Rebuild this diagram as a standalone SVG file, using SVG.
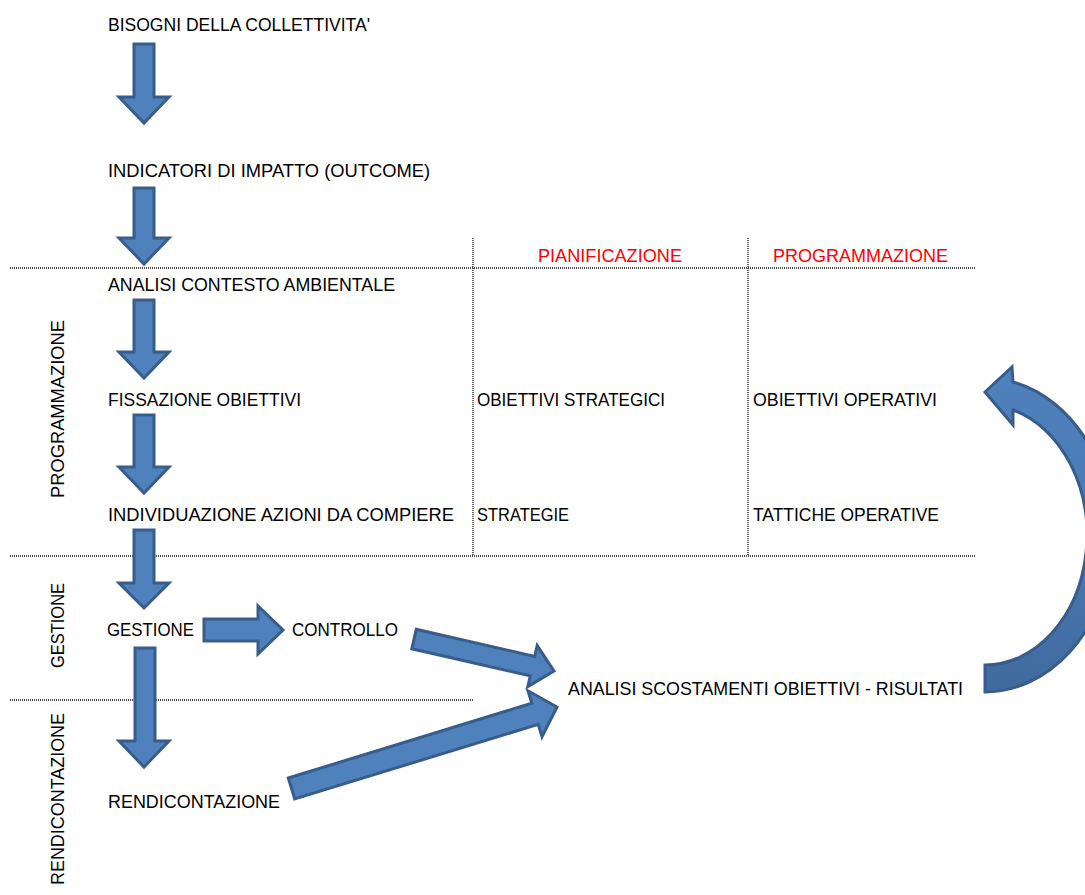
<svg xmlns="http://www.w3.org/2000/svg" width="1085" height="895" viewBox="0 0 1085 895">
<style>
.t{font-family:"Liberation Sans",Arial,sans-serif;font-size:18.5px;fill:#000}
.r{fill:#FF0000}
.ar{fill:#4F81BD;stroke:#385D8A;stroke-width:3;stroke-linejoin:miter}
.dot{stroke:#111;stroke-width:1.3;stroke-dasharray:1 1;fill:none}
</style>
<defs>
<linearGradient id="cg" x1="0" y1="0" x2="0" y2="1">
<stop offset="0" stop-color="#4F81BD"/>
<stop offset="0.55" stop-color="#4A79B2"/>
<stop offset="1" stop-color="#3F6A9E"/>
</linearGradient>
</defs>
<rect width="1085" height="895" fill="#fff"/>
<g id="grid">
<line class="dot" x1="10" y1="268" x2="975" y2="268"/>
<line class="dot" x1="10" y1="556" x2="975" y2="556"/>
<line class="dot" x1="10" y1="700" x2="473" y2="700"/>
<line class="dot" x1="473" y1="238" x2="473" y2="556"/>
<line class="dot" x1="748" y1="238" x2="748" y2="556"/>
</g>
<g id="labels">
<text class="t" transform="translate(64,498) rotate(-90)" textLength="178" lengthAdjust="spacingAndGlyphs">PROGRAMMAZIONE</text>
<text class="t" transform="translate(64,668) rotate(-90)" textLength="85" lengthAdjust="spacingAndGlyphs">GESTIONE</text>
<text class="t" transform="translate(64,885) rotate(-90)" textLength="172" lengthAdjust="spacingAndGlyphs">RENDICONTAZIONE</text>
<text class="t r" x="538" y="262" textLength="144" lengthAdjust="spacingAndGlyphs">PIANIFICAZIONE</text>
<text class="t r" x="773" y="262" textLength="175" lengthAdjust="spacingAndGlyphs">PROGRAMMAZIONE</text>
</g>
<g id="n-bisogni"><text class="t" x="108" y="31" textLength="262" lengthAdjust="spacingAndGlyphs">BISOGNI DELLA COLLETTIVITA'</text></g>
<g id="n-indicatori"><text class="t" x="108" y="177" textLength="322" lengthAdjust="spacingAndGlyphs">INDICATORI DI IMPATTO (OUTCOME)</text></g>
<g id="n-analisi-contesto"><text class="t" x="108" y="291" textLength="287" lengthAdjust="spacingAndGlyphs">ANALISI CONTESTO AMBIENTALE</text></g>
<g id="n-fissazione"><text class="t" x="108" y="406" textLength="193" lengthAdjust="spacingAndGlyphs">FISSAZIONE OBIETTIVI</text></g>
<g id="n-individuazione"><text class="t" x="108" y="521" textLength="346" lengthAdjust="spacingAndGlyphs">INDIVIDUAZIONE AZIONI DA COMPIERE</text></g>
<g id="n-gestione"><text class="t" x="107" y="636" textLength="87" lengthAdjust="spacingAndGlyphs">GESTIONE</text></g>
<g id="n-controllo"><text class="t" x="292" y="636" textLength="106" lengthAdjust="spacingAndGlyphs">CONTROLLO</text></g>
<g id="n-rendicontazione"><text class="t" x="108" y="808" textLength="172" lengthAdjust="spacingAndGlyphs">RENDICONTAZIONE</text></g>
<g id="n-obiettivi-strategici"><text class="t" x="477" y="406" textLength="188" lengthAdjust="spacingAndGlyphs">OBIETTIVI STRATEGICI</text></g>
<g id="n-obiettivi-operativi"><text class="t" x="753" y="406" textLength="184" lengthAdjust="spacingAndGlyphs">OBIETTIVI OPERATIVI</text></g>
<g id="n-strategie"><text class="t" x="477" y="521" textLength="92" lengthAdjust="spacingAndGlyphs">STRATEGIE</text></g>
<g id="n-tattiche"><text class="t" x="753" y="521" textLength="186" lengthAdjust="spacingAndGlyphs">TATTICHE OPERATIVE</text></g>
<g id="n-scostamenti"><text class="t" x="568" y="695" textLength="395" lengthAdjust="spacingAndGlyphs">ANALISI SCOSTAMENTI OBIETTIVI - RISULTATI</text></g>
<g id="connectors">
<path class="ar" d="M134,44 H154 V97 H169 L144,123 L119,97 H134 Z"/>
<path class="ar" d="M134,188 H154 V238 H169 L144,264 L119,238 H134 Z"/>
<path class="ar" d="M134,300 H154 V352 H169 L144,378 L119,352 H134 Z"/>
<path class="ar" d="M134,415 H154 V467 H169 L144,493 L119,467 H134 Z"/>
<path class="ar" d="M134,530 H154 V583 H169 L144,608 L119,583 H134 Z"/>
<path class="ar" d="M135,648 H155 V741 H169 L144,767 L119,741 H135 Z"/>
<path class="ar" d="M204,619 H258 V606 L283,630 L258,654 V641 H204 Z"/>
<path class="ar" d="M416.2,629.3 L534.7,656.4 L537.2,645.6 L554,671 L527.8,686.6 L530.3,675.9 L411.8,648.8 Z"/>
<path class="ar" d="M288.3,778 L531.8,703.2 L528,690.8 L557,707 L542,736.7 L538.2,724.3 L294.7,799 Z"/>
<path fill="url(#cg)" stroke="#385D8A" stroke-width="3" d="M985,665 A102,130 0 0 0 1013,410 L1013,425 L985,392 L1012,367 L1013,382 A128,157 0 0 1 985,692 Z"/>
</g>
</svg>
